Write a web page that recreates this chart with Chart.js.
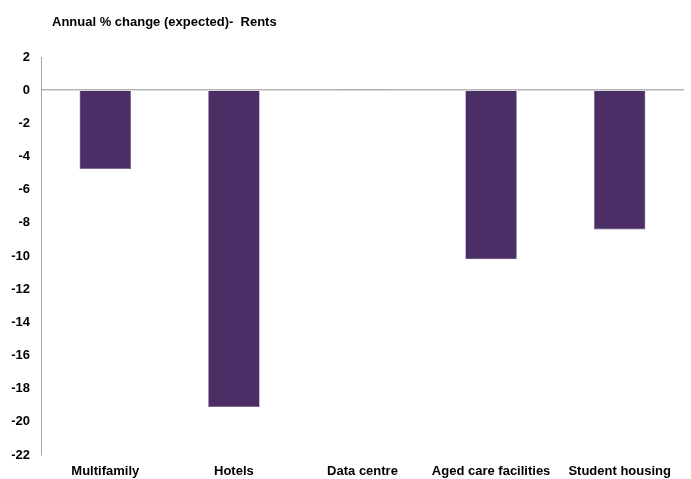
<!DOCTYPE html>
<html>
<head>
<meta charset="utf-8">
<script src="https://cdn.jsdelivr.net/npm/chart.js@4"></script>
<style>
    html, body { margin: 0; padding: 0; background: #fff; overflow: hidden; }
    #wrap { width: 691px; height: 479px; }
</style>
</head>
<body>
<div id="wrap"><canvas id="rentsChart" width="691" height="479"></canvas></div>
<script>
var categories = ['Multifamily', 'Hotels', 'Data centre', 'Aged care facilities', 'Student housing'];
var rentChange = [-4.75, -19.1, 0.06, -10.2, -8.4];
var yTicks = [2, 0, -2, -4, -6, -8, -10, -12, -14, -16, -18, -20, -22];
var chartTitle = 'Annual % change (expected)-  Rents';

var labelFont = { family: '"Liberation Sans", Arial, sans-serif', size: 13, weight: 'bold' };

// title sits left-aligned above the plot, like the spreadsheet original
var titlePlugin = {
    id: 'leftTitle',
    afterDraw: function (chart) {
        var c = chart.ctx;
        c.save();
        c.font = 'bold 13px "Liberation Sans", Arial, sans-serif';
        c.fillStyle = '#000';
        c.textBaseline = 'middle';
        c.fillText(chartTitle, 52, 22);
        c.restore();
    }
};

document.addEventListener('DOMContentLoaded', function () {
    var ctx = document.getElementById('rentsChart').getContext('2d');
    var rentsChart = new Chart(ctx, {
        type: 'bar',
        data: {
            labels: categories,
            datasets: [{
                label: 'Rents',
                data: rentChange,
                backgroundColor: '#4b2e65',
                borderColor: function (c) { return c.raw > 0 ? '#77757f' : '#6e5488'; },
                borderWidth: 0.6,
                barPercentage: 0.4,
                categoryPercentage: 1.0
            }]
        },
        plugins: [titlePlugin],
        options: {
            responsive: false,
            animation: false,
            layout: { padding: { left: 0, right: 7, top: 57, bottom: 0 } },
            plugins: {
                legend: { display: false },
                tooltip: { enabled: false },
                title: { display: false }
            },
            scales: {
                x: {
                    grid: { display: false, drawTicks: false },
                    border: { display: false },
                    ticks: { color: '#000', font: labelFont, padding: 9, maxRotation: 0, autoSkip: false },
                    afterFit: function (scale) { scale.height = 24; }
                },
                y: {
                    min: -22,
                    max: 2,
                    afterBuildTicks: function (scale) {
                        scale.ticks = yTicks.map(function (v) { return { value: v }; });
                    },
                    grid: {
                        drawTicks: false,
                        lineWidth: 1.5,
                        color: function (c) { return c.tick && c.tick.value === 0 ? '#b5b5b5' : 'rgba(0,0,0,0)'; }
                    },
                    border: { display: true, color: '#a6a6a6', width: 1 },
                    ticks: { color: '#000', font: labelFont, padding: 11 },
                    afterFit: function (scale) { scale.width = 41; }
                }
            }
        }
    });
});
</script>
</body>
</html>
